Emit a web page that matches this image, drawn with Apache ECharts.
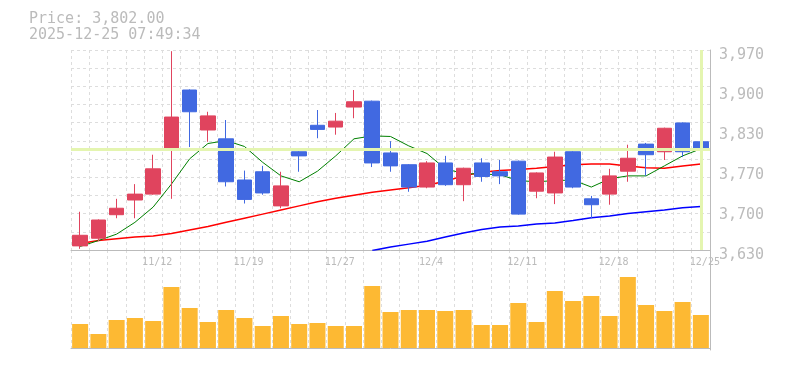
<!DOCTYPE html>
<html>
<head>
<meta charset="utf-8">
<script src="https://cdn.jsdelivr.net/npm/echarts@6/dist/echarts.min.js"></script>
<style>
html,body{margin:0;padding:0;background:#fff;}
#chart{width:785px;height:370px;}
</style>
</head>
<body>
<div id="chart"></div>
<script>
const dates = ['11/6','11/7','11/10','11/11','11/12','11/13','11/14','11/17','11/18','11/19','11/20','11/21','11/25','11/26','11/27','11/28','12/1','12/2','12/3','12/4','12/5','12/8','12/9','12/10','12/11','12/12','12/15','12/16','12/17','12/18','12/19','12/22','12/23','12/24','12/25'];
const opens  = [3637,3650,3690,3715,3725,3800,3902,3834,3819,3749,3763,3705,3797,3842,3839,3873,3883,3795,3775,3737,3778,3741,3778,3763,3781,3730,3727,3797,3717,3725,3764,3810,3797,3846,3814];
const closes = [3655,3681,3701,3725,3768,3856,3865,3858,3746,3716,3727,3739,3790,3835,3849,3882,3778,3773,3737,3778,3741,3769,3755,3756,3691,3761,3788,3737,3707,3756,3786,3792,3837,3797,3802];
const lows   = [3632,3645,3684,3684,3724,3717,3805,3814,3738,3709,3724,3701,3763,3820,3826,3854,3771,3763,3729,3735,3739,3713,3746,3742,3690,3718,3708,3735,3684,3707,3746,3756,3783,3788,3788];
const highs  = [3695,3682,3717,3742,3792,3968,3903,3865,3851,3765,3773,3763,3798,3868,3863,3902,3884,3815,3776,3781,3790,3770,3786,3783,3782,3762,3797,3798,3722,3768,3809,3812,3838,3847,3822];
const maShort = [3636,3646,3657,3677,3703,3742,3785,3811,3816,3806,3779,3756,3746,3764,3790,3819,3824,3823,3807,3794,3768,3760,3759,3758,3748,3746,3748,3749,3737,3751,3756,3756,3773,3790,3802];
const maMid   = [3641,3646,3649,3652,3654,3658,3664,3670,3677,3684,3691,3698,3705,3712,3718,3723,3728,3732,3736,3740,3747,3756,3762,3765,3767,3769,3772,3775,3776,3776,3773,3770,3769,3773,3776];
const maLong  = [null,null,null,null,null,null,null,null,null,null,null,null,null,null,null,null,3629,3635,3640,3645,3652,3659,3665,3669,3671,3674,3676,3680,3685,3688,3692,3695,3698,3702,3704];
const volumes = [24,14,28,30,27,61,40,26,38,30,22,32,24,25,22,22,62,36,38,38,37,38,23,23,45,26,57,47,52,32,71,43,37,46,33];
const xTickLabels = ['11/12','11/19','11/27','12/4','12/11','12/18','12/25'];
const yMin = 3630, yMax = 3970, yStep = 68;
const timestamp = '2025-12-25 07:49:34';

const lastClose = closes[closes.length - 1];
const lastDate = dates[dates.length - 1];
const candleData = dates.map((d, i) => [opens[i], closes[i], lows[i], highs[i]]);

const MONO = '"DejaVu Sans Mono", "Liberation Mono", monospace';
const GRAY = '#bbbbbb';
const GRID_LINE = {show: true, lineStyle: {color: '#dddddd', type: [3, 3], width: 1}};
const UP = '#e0445e', DOWN = '#4169e1';

const chart = echarts.init(document.getElementById('chart'), null, {renderer: 'canvas'});
chart.setOption({
  animation: false,
  backgroundColor: '#ffffff',
  graphic: [
    {type: 'text', left: 29, top: 12, z: 10,
     style: {text: 'Price: ' + lastClose.toLocaleString('en-US', {minimumFractionDigits: 2, maximumFractionDigits: 2}),
             fill: GRAY, font: '15px ' + MONO}},
    {type: 'text', left: 29, top: 27.5, z: 10,
     style: {text: timestamp, fill: GRAY, font: '15px ' + MONO}}
  ],
  grid: [
    {left: 71, right: 75, top: 50, height: 200},
    {left: 71, right: 75, top: 250, height: 100}
  ],
  xAxis: [
    {type: 'category', gridIndex: 0, data: dates, boundaryGap: true,
     axisLine: {show: true, lineStyle: {color: GRAY, width: 1}},
     axisTick: {show: false},
     axisLabel: {interval: (idx, val) => xTickLabels.includes(val), color: GRAY, fontFamily: MONO, fontSize: 10, margin: 7, padding: [0, 0, 0, 8]},
     splitLine: Object.assign({interval: 0}, GRID_LINE)},
    {type: 'category', gridIndex: 1, data: dates, boundaryGap: true,
     axisLine: {show: true, lineStyle: {color: GRAY, width: 1}},
     axisTick: {show: false},
     axisLabel: {show: false},
     splitLine: Object.assign({interval: 0}, GRID_LINE)}
  ],
  yAxis: [
    {type: 'value', gridIndex: 0, position: 'right', min: yMin, max: yMax, interval: yStep,
     axisLine: {show: true, lineStyle: {color: GRAY, width: 1}},
     axisTick: {show: false},
     axisLabel: {color: GRAY, fontFamily: MONO, fontSize: 15, margin: 9, verticalAlign: 'top', lineHeight: 10,
       formatter: v => (Math.round(v / 10) * 10).toLocaleString('en-US')},
     splitLine: {show: false}},
    {type: 'value', gridIndex: 0, position: 'left', min: 0, max: 11, interval: 1,
     axisLine: {show: false}, axisTick: {show: false}, axisLabel: {show: false},
     splitLine: GRID_LINE},
    {type: 'value', gridIndex: 1, position: 'right', min: -2, max: 98,
     axisLine: {show: true, lineStyle: {color: GRAY, width: 1}},
     axisTick: {show: false}, axisLabel: {show: false}, splitLine: {show: false}}
  ],
  series: [
    {name: 'guide', type: 'line', xAxisIndex: 0, yAxisIndex: 0, data: closes, z: 1,
     showSymbol: false, lineStyle: {opacity: 0}, silent: true,
     markLine: {silent: true, symbol: ['none', 'none'], label: {show: false},
       lineStyle: {color: '#e4f5b0', width: 3, type: 'solid'},
       data: [{yAxis: lastClose}, {xAxis: lastDate}]}},
    {name: 'MA long', type: 'line', xAxisIndex: 0, yAxisIndex: 0, data: maLong, z: 2,
     showSymbol: false, lineStyle: {color: '#0000ff', width: 1.5}},
    {name: 'MA mid', type: 'line', xAxisIndex: 0, yAxisIndex: 0, data: maMid, z: 2,
     showSymbol: false, lineStyle: {color: '#ff0000', width: 1.5}},
    {name: 'MA short', type: 'line', xAxisIndex: 0, yAxisIndex: 0, data: maShort, z: 2,
     showSymbol: false, lineStyle: {color: '#008000', width: 1}},
    {name: 'price', type: 'candlestick', xAxisIndex: 0, yAxisIndex: 0, data: candleData, z: 3,
     barWidth: 15,
     itemStyle: {color: UP, color0: DOWN, borderColor: UP, borderColor0: DOWN, borderWidth: 1}},
    {name: 'volume', type: 'bar', xAxisIndex: 1, yAxisIndex: 2, data: volumes, barWidth: 16,
     itemStyle: {color: '#fdb933'}}
  ]
});
</script>
</body>
</html>
